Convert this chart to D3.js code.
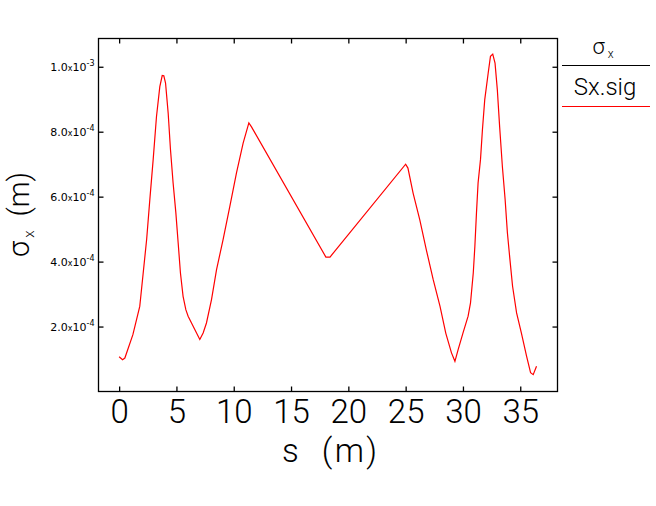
<!DOCTYPE html>
<html><head><meta charset="utf-8">
<script src="https://cdn.jsdelivr.net/npm/d3@7/dist/d3.min.js"></script>
<style>
body{margin:0;background:#fff;}
svg{display:block;}
text{font-family:"Roboto","DejaVu Sans",sans-serif;font-weight:300;}
</style></head>
<body><svg id="c" width="656" height="506"></svg>
<script>
// data: s (m) and sigma_x (m)
const sValues = [0.0,0.3,0.5,1.2,1.8,2.1,2.4,2.7,2.97,3.26,3.55,3.76,3.9,4.05,4.28,4.48,4.71,4.95,5.15,5.35,5.58,5.82,6.02,7.04,7.33,7.62,8.06,8.5,9.07,9.66,10.24,10.82,11.32,11.55,18.04,18.4,25.0,25.2,25.65,26.23,26.8,27.4,28.0,28.5,29.0,29.3,29.58,30.0,30.45,30.66,30.9,31.04,31.18,31.32,31.53,31.7,31.9,32.2,32.4,32.6,32.8,33.0,33.2,33.44,33.68,33.88,34.1,34.33,34.68,35.1,35.55,35.9,36.13,36.42];
const sigmaX = [1.07e-4,0.98e-4,1.03e-4,1.75e-4,2.62e-4,3.65e-4,4.68e-4,6.0e-4,7.14e-4,8.47e-4,9.39e-4,9.73e-4,9.72e-4,9.5e-4,8.57e-4,7.45e-4,6.42e-4,5.5e-4,4.58e-4,3.65e-4,2.93e-4,2.52e-4,2.32e-4,1.6e-4,1.8e-4,2.11e-4,2.83e-4,3.75e-4,4.68e-4,5.7e-4,6.73e-4,7.65e-4,8.27e-4,8.15e-4,4.14e-4,4.14e-4,7.0e-4,6.88e-4,6.11e-4,5.29e-4,4.37e-4,3.45e-4,2.62e-4,1.8e-4,1.19e-4,0.93e-4,1.29e-4,1.8e-4,2.32e-4,2.73e-4,3.65e-4,4.47e-4,5.5e-4,6.42e-4,7.14e-4,8.06e-4,8.98e-4,9.8e-4,1.032e-3,1.039e-3,1.011e-3,9.29e-4,8.16e-4,6.93e-4,5.91e-4,4.88e-4,4.06e-4,3.24e-4,2.42e-4,1.8e-4,1.09e-4,0.58e-4,0.52e-4,0.78e-4];
const xTicks = [0,5,10,15,20,25,30,35];
const yTicks = [2e-4,4e-4,6e-4,8e-4,1e-3];
const yTickMant = ["2.0","4.0","6.0","8.0","1.0"];
const yTickExp = ["-4","-4","-4","-4","-3"];
const seriesName = "Sx.sig";

const L=98.5,R=557.5,T=38.5,B=391.5;
const svg=d3.select("#c");
const x=d3.scaleLinear().domain([-1.8,38.25]).range([L,R]);
const y=d3.scaleLinear().domain([0,1.087e-3]).range([B,T]);

// frame
svg.append("rect").attr("x",L).attr("y",T).attr("width",R-L).attr("height",B-T)
  .attr("fill","none").attr("stroke","#000").attr("stroke-width",1.3);

// x ticks (inward, top and bottom)
const xb=d3.axisBottom(x).tickValues(xTicks).tickSize(-5).tickPadding(8).tickFormat(d3.format("d"));
const gxb=svg.append("g").attr("transform",`translate(0,${B})`).call(xb);
gxb.select(".domain").remove();
gxb.selectAll("line").attr("stroke","#000").attr("stroke-width",1.3);
gxb.selectAll("text").attr("font-size",33).attr("fill","#000").attr("dy","0.72em")
  .style("font-family","Roboto, sans-serif").style("font-weight",300);
const xt=d3.axisTop(x).tickValues(xTicks).tickSize(-5).tickFormat("");
const gxt=svg.append("g").attr("transform",`translate(0,${T})`).call(xt);
gxt.select(".domain").remove();
gxt.selectAll("line").attr("stroke","#000").attr("stroke-width",1.3);

// y ticks
const yl=d3.axisLeft(y).tickValues(yTicks).tickSize(-5).tickFormat("");
const gyl=svg.append("g").attr("transform",`translate(${L},0)`).call(yl);
gyl.select(".domain").remove();
gyl.selectAll("line").attr("stroke","#000").attr("stroke-width",1.3);
const yr=d3.axisRight(y).tickValues(yTicks).tickSize(-5).tickFormat("");
const gyr=svg.append("g").attr("transform",`translate(${R},0)`).call(yr);
gyr.select(".domain").remove();
gyr.selectAll("line").attr("stroke","#000").attr("stroke-width",1.3);

// y tick labels like 1.0x10^-3
yTicks.forEach((v,i)=>{
  const t=svg.append("text").attr("x",L-4).attr("y",y(v)+4).attr("text-anchor","end")
    .attr("font-size",11).attr("fill","#000").style("font-family","'DejaVu Sans',sans-serif").style("font-weight",400);
  t.append("tspan").text(yTickMant[i]);
  t.append("tspan").attr("font-size",8).text("x");
  t.append("tspan").text("10");
  t.append("tspan").attr("font-size",8).attr("dy",-5).text(yTickExp[i]);
});

// line
const line=d3.line().x((d,i)=>x(sValues[i])).y(d=>y(d));
svg.append("path").datum(sigmaX).attr("d",line).attr("fill","none")
  .attr("stroke","#ff0000").attr("stroke-width",1.2);

// axis titles
svg.append("text").attr("x",282).attr("y",462).attr("text-anchor","start")
  .attr("font-size",33).attr("fill","#000").attr("xml:space","preserve")
  .attr("textLength",95).attr("lengthAdjust","spacing").text("s  (m)");
const yt=svg.append("text").attr("transform","translate(29,257) rotate(-90)").attr("text-anchor","start")
  .attr("font-size",29).attr("fill","#000").attr("xml:space","preserve");
yt.append("tspan").text("σ");
yt.append("tspan").attr("font-size",15).attr("dy",5).attr("dx",3).text("x");
yt.append("tspan").attr("dy",-5).text("  (m)");

// legend
const lg=svg.append("text").attr("x",603).attr("y",54).attr("text-anchor","middle").attr("font-size",22).attr("fill","#000");
lg.append("tspan").text("σ");
lg.append("tspan").attr("font-size",12).attr("dy",4).attr("dx",3).text("x");
svg.append("line").attr("x1",562).attr("x2",650).attr("y1",65.5).attr("y2",65.5).attr("stroke","#000").attr("stroke-width",1.2);
svg.append("text").attr("x",605).attr("y",95).attr("text-anchor","middle").attr("font-size",24).attr("fill","#000").text(seriesName);
svg.append("line").attr("x1",562).attr("x2",650).attr("y1",106.5).attr("y2",106.5).attr("stroke","#ff0000").attr("stroke-width",1.2);
</script></body></html>
